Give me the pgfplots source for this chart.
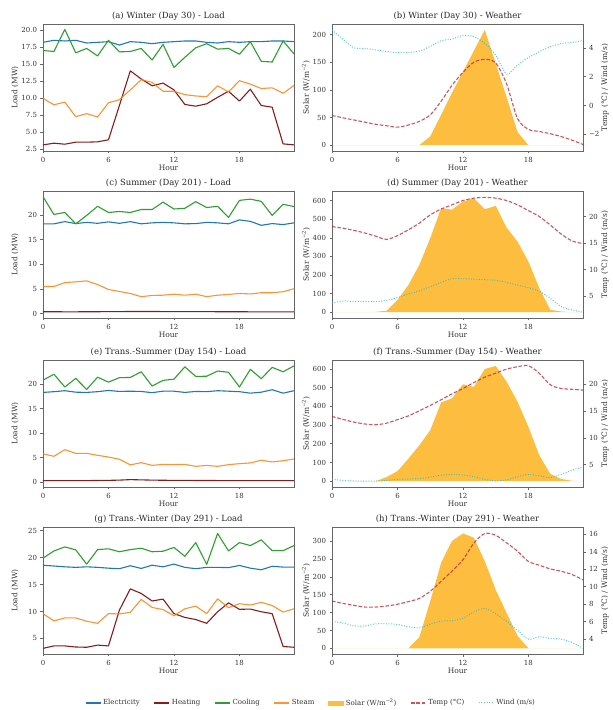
\documentclass[border=0pt]{standalone}
\usepackage{pgfplots}
\pgfplotsset{compat=1.18}
\usepackage{pgfplotstable}
\usepackage{fontspec}
\setmainfont{DejaVu Serif}
\definecolor{celec}{HTML}{1F77B4}
\definecolor{cheat}{RGB}{139,26,26}
\definecolor{ccool}{HTML}{2CA02C}
\definecolor{csteam}{HTML}{FF7F0E}
\definecolor{csolar}{RGB}{253,190,64}
\definecolor{ctemp}{RGB}{200,40,50}
\definecolor{cwind}{HTML}{17BECF}
\newcommand\tickfont{\fontsize{7}{8}\selectfont}
\newcommand\labfont{\fontsize{7.5}{9}\selectfont}
\newcommand\titfont{\fontsize{8.5}{10}\selectfont}
\newcommand\legfont{\fontsize{7}{8}\selectfont}

\pgfplotstableread{
h e ht c s
0 18.2 3.1 17.0 9.95
1 18.5 3.35 16.85 9.0
2 18.4 3.2 20.1 9.4
3 18.5 3.5 16.65 7.25
4 18.1 3.5 17.3 7.7
5 18.2 3.55 16.2 7.2
6 18.3 3.85 18.5 9.3
7 17.8 8.9 16.8 9.75
8 18.3 14.0 16.85 11.2
9 18.2 12.8 17.3 12.7
10 18.0 11.8 15.6 12.3
11 18.2 12.2 17.9 11.0
12 18.3 11.2 14.5 11.0
13 18.4 9.05 16.0 10.5
14 18.4 8.8 17.4 10.3
15 18.2 9.15 18.0 10.2
16 18.1 10.1 17.2 11.8
17 18.3 11.0 17.3 10.9
18 18.2 9.55 16.45 12.55
19 18.3 11.3 18.3 12.05
20 18.3 8.9 15.4 11.4
21 18.4 8.65 15.3 11.5
22 18.4 3.25 18.4 10.7
23 18.3 3.1 16.5 11.85
}\tA

\pgfplotstableread{
h sol t w
0 0 -0.69 5.23
1 0 -0.85 4.6
2 0 -1.0 4.0
3 0 -1.15 3.95
4 0 -1.3 3.85
5 0 -1.4 3.75
6 0 -1.5 3.66
7 0 -1.35 3.68
8 0 -1.1 3.77
9 16 -0.65 4.1
10 55 0.3 4.49
11 95 1.4 4.6
12 133 2.3 4.86
13 171 3.0 4.77
14 209 3.2 4.3
15 148 2.95 3.5
16 87 1.5 2.18
17 24 -0.9 2.8
18 0 -1.65 3.33
19 0 -1.8 3.73
20 0 -1.95 4.07
21 0 -2.15 4.3
22 0 -2.4 4.37
23 0 -2.7 4.5
}\tB

\pgfplotstableread{
h e ht c s
0 18.2 0.4 23.7 5.5
1 18.2 0.4 20.1 5.5
2 18.65 0.38 20.5 6.3
3 18.25 0.38 18.2 6.45
4 18.5 0.4 19.9 6.65
5 18.3 0.4 21.75 5.9
6 18.6 0.42 20.5 4.9
7 18.3 0.42 20.7 4.5
8 18.65 0.45 20.5 4.1
9 18.2 0.45 21.1 3.45
10 18.4 0.45 21.1 3.7
11 18.5 0.43 22.6 3.75
12 18.4 0.42 21.2 3.95
13 18.2 0.42 21.35 3.75
14 18.25 0.42 22.7 3.95
15 18.5 0.42 21.5 3.45
16 18.4 0.4 21.75 3.75
17 18.2 0.4 19.5 3.9
18 19.0 0.4 22.95 4.1
19 18.7 0.38 23.2 4.0
20 17.9 0.38 22.75 4.25
21 18.25 0.38 19.9 4.25
22 18.05 0.38 22.15 4.45
23 18.4 0.38 21.7 5.05
}\tC

\pgfplotstableread{
h sol t w
0 0 18.1 3.7
1 0 17.8 4.1
2 0 17.4 4.0
3 0 16.9 4.0
4 2 16.3 4.0
5 8 15.7 4.2
6 66 16.4 4.75
7 147 17.5 5.4
8 254 18.75 6.0
9 398 20.3 6.8
10 559 21.4 7.6
11 552 22.2 8.3
12 595 23.0 8.3
13 613 23.45 8.2
14 554 23.6 8.1
15 572 23.45 8.0
16 455 23.0 7.6
17 380 22.2 7.1
18 272 21.1 6.6
19 129 20.0 5.9
20 13 18.4 4.6
21 4 16.7 3.05
22 0 15.4 2.4
23 0 14.9 2.0
}\tD

\pgfplotstableread{
h e ht c s
0 18.3 0.35 20.8 5.8
1 18.45 0.35 22.0 5.3
2 18.65 0.35 19.4 6.65
3 18.35 0.35 21.15 5.9
4 18.3 0.35 18.9 5.9
5 18.45 0.38 21.4 5.5
6 18.7 0.4 20.4 5.15
7 18.5 0.45 21.3 4.7
8 18.55 0.55 21.35 3.55
9 18.5 0.5 22.5 4.0
10 18.25 0.45 19.6 3.45
11 18.55 0.42 20.75 3.65
12 18.55 0.4 21.0 3.6
13 18.3 0.4 23.5 3.65
14 18.5 0.38 21.55 3.25
15 18.45 0.38 21.6 3.45
16 18.65 0.36 22.65 3.25
17 18.55 0.36 22.4 3.6
18 18.45 0.36 19.4 3.8
19 18.15 0.35 23.0 3.95
20 18.35 0.35 21.1 4.5
21 18.85 0.35 23.4 4.15
22 18.15 0.35 22.5 4.4
23 18.65 0.35 23.7 4.75
}\tE

\pgfplotstableread{
h sol t w
0 0 14.0 2.3
1 0 13.45 2.1
2 0 12.95 2.0
3 0 12.6 1.95
4 0 12.45 1.95
5 22 12.75 2.1
6 54 13.4 2.3
7 120 14.1 2.35
8 192 15.05 2.45
9 272 16.05 2.7
10 421 17.1 3.05
11 443 18.2 3.2
12 518 19.2 3.1
13 504 20.3 2.8
14 600 21.3 2.3
15 616 22.05 2.0
16 532 22.8 2.2
17 425 23.25 2.8
18 290 23.45 3.2
19 138 22.0 2.95
20 39 19.9 2.6
21 12 19.2 3.25
22 2 19.05 4.0
23 0 18.9 4.6
}\tF

\pgfplotstableread{
h e ht c s
0 18.6 3.15 19.9 9.6
1 18.45 3.6 21.25 8.25
2 18.3 3.6 22.0 8.8
3 18.2 3.4 21.45 8.8
4 18.3 3.35 18.8 8.2
5 18.2 3.75 21.5 7.8
6 18.05 3.6 21.65 9.6
7 17.95 10.25 21.1 9.55
8 18.5 14.2 21.5 9.85
9 18.0 13.35 21.75 12.25
10 18.6 11.95 21.1 10.75
11 18.3 12.3 21.2 10.35
12 18.8 9.6 21.9 9.2
13 18.2 8.9 20.25 10.5
14 17.95 8.5 22.8 11.0
15 18.2 7.8 18.75 9.6
16 18.2 9.95 24.5 12.35
17 18.15 11.6 21.25 10.7
18 18.55 10.4 22.8 11.45
19 18.05 10.45 22.25 11.2
20 17.75 9.95 23.3 11.7
21 18.4 9.6 21.3 11.1
22 18.25 3.5 21.3 9.9
23 18.25 3.35 22.25 10.5
}\tG

\pgfplotstableread{
h sol t w
0 0 8.37 6.03
1 0 8.1 5.84
2 0 7.87 5.53
3 0 7.68 5.5
4 0 7.68 5.76
5 0 7.8 5.76
6 0 8.0 5.69
7 0 8.3 5.42
8 31 8.67 5.3
9 132 9.48 5.72
10 240 10.63 6.07
11 301 11.8 6.1
12 322 13.1 6.41
13 310 15.0 7.1
14 244 16.1 7.52
15 164 15.9 6.9
16 99 15.03 6.03
17 35 14.08 5.0
18 0 12.9 4.0
19 0 12.47 4.27
20 0 12.05 4.08
21 0 11.78 4.0
22 0 11.4 3.62
23 0 10.8 2.97
}\tH

\pgfplotsset{
  base/.style={scale only axis, width=251pt, height=127pt,
    xmin=0, xmax=23, xtick={0,6,12,18},
    tick align=outside, major tick length=2.5pt,
    tick style={black!60, line width=0.6pt},
    axis line style={black!60, line width=0.8pt},
    ticklabel style={font=\tickfont, text=black!80},
    label style={font=\labfont, text=black!80},
    title style={font=\titfont, text=black!85, at={(axis description cs:0.5,1)}, anchor=center, yshift=2pt},
    /pgf/number format/assume math mode=true,
    xlabel=Hour,
    xlabel style={at={(axis description cs:0.5,-0.134)}, anchor=center},
    tick pos=left},
  loadax/.style={base, ylabel={Load (MW)},
    ylabel style={at={(axis description cs:-0.1116,0.5)}, anchor=center}},
  wleft/.style={base, ylabel={Solar (W/m\textsuperscript{−2})},
    ylabel style={at={(axis description cs:-0.1036,0.5)}, anchor=center}},
  wright/.style={scale only axis, width=251pt, height=127pt,
    xmin=0, xmax=23, axis y line*=right, axis x line=none,
    tick align=outside, major tick length=2.5pt,
    tick style={black!60, line width=0.6pt},
    axis line style={black!60, line width=0.8pt},
    ticklabel style={font=\tickfont, text=black!80},
    label style={font=\labfont, text=black!80},
    /pgf/number format/assume math mode=true,
    ylabel={Temp (°C) / Wind (m/s)},
    ylabel style={at={(axis description cs:1.0876,0.5)}, anchor=center, rotate=0}},
  pE/.style={color=celec, line width=1.1pt, line join=round},
  pH/.style={color=cheat, line width=1.1pt, line join=round},
  pC/.style={color=ccool, line width=1.1pt, line join=round},
  pS/.style={color=csteam, line width=1.1pt, line join=round, opacity=0.85},
  pSol/.style={fill=csolar, draw=none},
  pT/.style={color=ctemp, line width=1.1pt, dash pattern=on 3.6pt off 1.8pt, opacity=0.8, smooth, tension=0.5},
  pW/.style={color=cwind, line width=1.0pt, dash pattern=on 1pt off 1.6pt, opacity=0.75, smooth, tension=0.5},
}

\begin{document}
\begin{tikzpicture}
\useasboundingbox (0,0) rectangle (613pt,710pt);

% (a)
\begin{axis}[loadax, at={(43pt,686pt)}, anchor=north west,
  title={(a) Winter (Day 30) - Load}, ymin=2.2, ymax=20.9,
  ytick={2.5,5,7.5,10,12.5,15,17.5,20},
  yticklabel style={/pgf/number format/.cd, fixed, fixed zerofill, precision=1}]
\addplot[pE] table[x=h,y=e]{\tA};
\addplot[pH] table[x=h,y=ht]{\tA};
\addplot[pC] table[x=h,y=c]{\tA};
\addplot[pS] table[x=h,y=s]{\tA};
\end{axis}
% (b)
\begin{axis}[wleft, at={(332pt,686pt)}, anchor=north west,
  title={(b) Winter (Day 30) - Weather}, ymin=-10.5, ymax=219.5,
  ytick={0,50,100,150,200}]
\addplot[pSol] table[x=h,y=sol]{\tB} \closedcycle;
\end{axis}
\begin{axis}[wright, at={(332pt,686pt)}, anchor=north west,
  ymin=-3.15, ymax=5.65, ytick={-2,0,2,4}, yticklabels={−2,0,2,4}]
\addplot[pT] table[x=h,y=t]{\tB};
\addplot[pW] table[x=h,y=w]{\tB};
\end{axis}

% (c)
\begin{axis}[loadax, at={(43pt,519pt)}, anchor=north west,
  title={(c) Summer (Day 201) - Load}, ymin=-0.87, ymax=24.85,
  ytick={0,5,10,15,20}]
\addplot[pE] table[x=h,y=e]{\tC};
\addplot[pH] table[x=h,y=ht]{\tC};
\addplot[pC] table[x=h,y=c]{\tC};
\addplot[pS] table[x=h,y=s]{\tC};
\end{axis}
% (d)
\begin{axis}[wleft, at={(332pt,519pt)}, anchor=north west,
  title={(d) Summer (Day 201) - Weather}, ymin=-31, ymax=652,
  ytick={0,100,200,300,400,500,600}]
\addplot[pSol] table[x=h,y=sol]{\tD} \closedcycle;
\end{axis}
\begin{axis}[wright, at={(332pt,519pt)}, anchor=north west,
  ymin=0.9, ymax=24.8, ytick={5,10,15,20}]
\addplot[pT] table[x=h,y=t]{\tD};
\addplot[pW] table[x=h,y=w]{\tD};
\end{axis}

% (e)
\begin{axis}[loadax, at={(43pt,350pt)}, anchor=north west,
  title={(e) Trans.-Summer (Day 154) - Load}, ymin=-0.95, ymax=24.9,
  ytick={0,5,10,15,20}]
\addplot[pE] table[x=h,y=e]{\tE};
\addplot[pH] table[x=h,y=ht]{\tE};
\addplot[pC] table[x=h,y=c]{\tE};
\addplot[pS] table[x=h,y=s]{\tE};
\end{axis}
% (f)
\begin{axis}[wleft, at={(332pt,350pt)}, anchor=north west,
  title={(f) Trans.-Summer (Day 154) - Weather}, ymin=-31, ymax=648,
  ytick={0,100,200,300,400,500,600}]
\addplot[pSol] table[x=h,y=sol]{\tF} \closedcycle;
\end{axis}
\begin{axis}[wright, at={(332pt,350pt)}, anchor=north west,
  ymin=0.87, ymax=24.5, ytick={5,10,15,20}]
\addplot[pT] table[x=h,y=t]{\tF};
\addplot[pW] table[x=h,y=w]{\tF};
\end{axis}

% (g)
\begin{axis}[loadax, at={(43pt,183pt)}, anchor=north west,
  title={(g) Trans.-Winter (Day 291) - Load}, ymin=2.1, ymax=25.7,
  ytick={5,10,15,20,25}]
\addplot[pE] table[x=h,y=e]{\tG};
\addplot[pH] table[x=h,y=ht]{\tG};
\addplot[pC] table[x=h,y=c]{\tG};
\addplot[pS] table[x=h,y=s]{\tG};
\end{axis}
% (h)
\begin{axis}[wleft, at={(332pt,183pt)}, anchor=north west,
  title={(h) Trans.-Winter (Day 291) - Weather}, ymin=-16, ymax=340,
  ytick={0,50,100,150,200,250,300}]
\addplot[pSol] table[x=h,y=sol]{\tH} \closedcycle;
\end{axis}
\begin{axis}[wright, at={(332pt,183pt)}, anchor=north west,
  ymin=2.3, ymax=16.85, ytick={4,6,8,10,12,14,16}]
\addplot[pT] table[x=h,y=t]{\tH};
\addplot[pW] table[x=h,y=w]{\tH};
\end{axis}

% legend
\begin{axis}[hide axis, scale only axis, width=10pt, height=10pt,
  xmin=0, xmax=1, ymin=0, ymax=1, at={(311pt,7pt)}, anchor=center,
  legend columns=7,
  legend style={at={(0.5,0.5)}, anchor=center, draw=none, fill=none,
    font=\legfont, text=black!80,
    /tikz/every even column/.append style={column sep=12pt}},
  legend image code/.code={\draw (0pt,0pt) -- (15pt,0pt);}]
\addlegendimage{pE}
\addlegendentry{Electricity}
\addlegendimage{pH}
\addlegendentry{Heating}
\addlegendimage{pC}
\addlegendentry{Cooling}
\addlegendimage{pS}
\addlegendentry{Steam}
\addlegendimage{legend image code/.code={\fill[csolar] (0pt,-2pt) rectangle (15pt,2pt);}}
\addlegendentry{Solar (W/m\textsuperscript{−2})}
\addlegendimage{color=ctemp, line width=1.1pt, dash pattern=on 3.6pt off 1.8pt, opacity=0.8}
\addlegendentry{Temp (°C)}
\addlegendimage{color=cwind, line width=1.0pt, dash pattern=on 1pt off 1.6pt, opacity=0.75}
\addlegendentry{Wind (m/s)}
\end{axis}
\end{tikzpicture}
\end{document}
